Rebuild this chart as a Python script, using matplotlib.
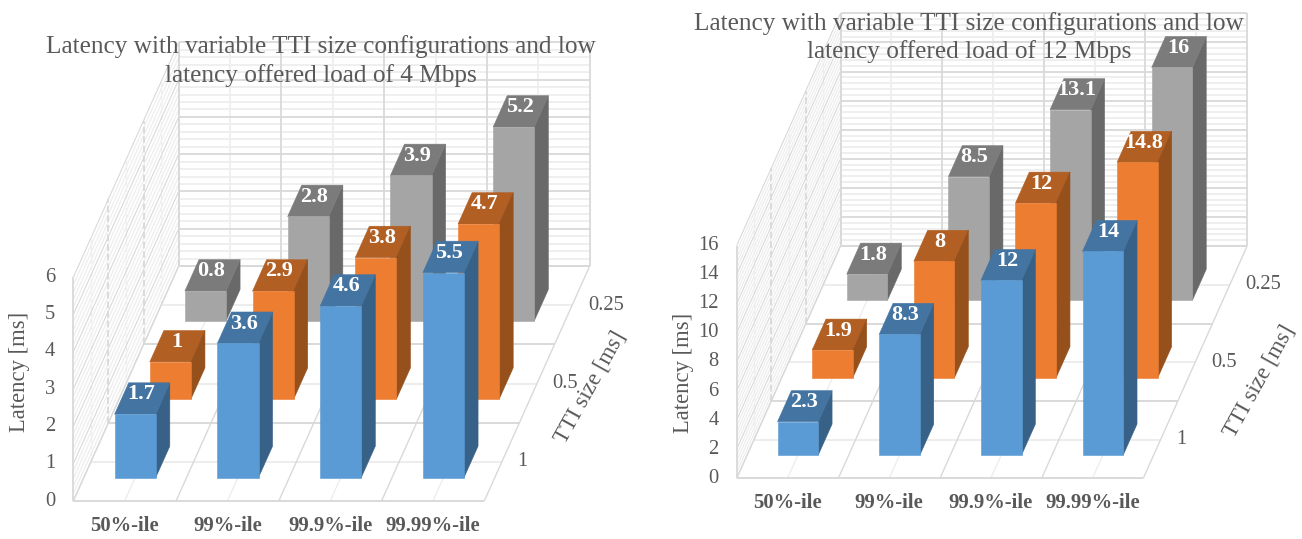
import numpy as np
import matplotlib
matplotlib.use("Agg")
import matplotlib.pyplot as plt
from mpl_toolkits.mplot3d import proj3d
from mpl_toolkits.mplot3d.art3d import Line3DCollection

plt.rcParams['font.family'] = ['Liberation Serif', 'DejaVu Serif']

categories = ['50%-ile', '99%-ile', '99.9%-ile', '99.99%-ile']
tti_labels = ['1', '0.5', '0.25']

# latency per percentile, one list for each TTI size
load4_tti1 = [1.7, 3.6, 4.6, 5.5]
load4_tti05 = [1, 2.9, 3.8, 4.7]
load4_tti025 = [0.8, 2.8, 3.9, 5.2]

load12_tti1 = [2.3, 8.3, 12, 14]
load12_tti05 = [1.9, 8, 12, 14.8]
load12_tti025 = [1.8, 8.5, 13.1, 16]

title4 = 'Latency with variable TTI size configurations and low\nlatency offered load of 4 Mbps'
title12 = 'Latency with variable TTI size configurations and low\nlatency offered load of 12 Mbps'

W, H = 1302, 539
GREY = '#595959'
MAJOR = '#d9d9d9'
MINOR = '#eeeeee'
# front, top, right face colours per TTI row
FACES = [('#5b9bd5', '#4474a1', '#376187'),
         ('#ed7d31', '#b25f24', '#95501c'),
         ('#a5a5a5', '#7b7b7b', '#696969')]


def oblique(x0, y0, cat_w, row_dx, row_dy, unit):
    # Excel style cabinet view: front faces stay rectangles, depth is a plain shear
    return np.array([[cat_w, row_dx, 0, x0],
                     [0, -row_dy, -unit, y0],
                     [0, 1, 0, 0],
                     [0, 0, 0, 1.0]])


def draw_chart(fig, rows, title, title_xy, zmax, zstep, M, ylabel_xy, xlabel_xy):
    ax = fig.add_axes([0, 0, 1, 1], projection='3d')
    ax.set_axis_off()
    ax.set_xticks([])
    ax.set_yticks([])
    ax.set_zticks([])
    ax.patch.set_alpha(0)
    ax.computed_zorder = False
    ax.get_proj = lambda: M
    ax.apply_aspect = lambda position=None: None
    ax.viewLim.intervalx = (0, W)
    ax.viewLim.intervaly = (H, 0)

    unit = -M[1, 2]
    cat_w = M[0, 0]
    n_cat = len(categories)
    n_row = len(rows)

    def line(xs, ys, zs, color, lw=1.3, ls='-', z=1):
        seg = [list(zip(xs, ys, zs))]
        ax.add_collection3d(Line3DCollection(seg, colors=color, linewidths=lw, linestyles=ls, zorder=z),
                            autolim=False)

    def label(x, y, z, s, **kw):
        px, py, _ = proj3d.proj_transform(x, y, z, M)
        ax.text2D(px, py, s, transform=ax.transData, va='center', **kw)

    # walls, minor lines first
    minor = zstep / 5
    for v in np.arange(0, zmax + minor / 2, minor):
        if abs(v / zstep - round(v / zstep)) > 1e-6:
            line([0, n_cat], [n_row, n_row], [v, v], MINOR)
            line([0, 0], [0, n_row], [v, v], MINOR, lw=0.9)
    for i in np.arange(0.5, n_cat, 1):
        line([i, i], [n_row, n_row], [0, zmax], MINOR)
        line([i, i], [0, n_row], [0, 0], '#ececec', lw=0.9)
    for r in np.arange(0.5, n_row, 1):
        line([0, 0], [r, r], [0, zmax], MINOR, lw=0.9, ls='--')
        line([0, n_cat], [r, r], [0, 0], '#ececec')
    for v in np.arange(0, zmax + zstep / 2, zstep):
        line([0, n_cat], [n_row, n_row], [v, v], MAJOR, z=2)
        line([0, 0], [0, n_row], [v, v], MAJOR, lw=0.8, z=2)
    for i in range(n_cat + 1):
        line([i, i], [n_row, n_row], [0, zmax], MAJOR, z=2)
        line([i, i], [0, n_row], [0, 0], MAJOR, lw=1.0, z=2)
    for r in range(n_row + 1):
        style = '-' if r == 0 else '--'
        line([0, 0], [r, r], [0, zmax], MAJOR, ls=style, z=2)
        line([0, n_cat], [r, r], [0, 0], MAJOR, lw=1.4, z=2)

    # bars back to front so the near rows cover the far ones
    for r in reversed(range(n_row)):
        front, top, side = FACES[r]
        colors = ['none', top, front, 'none', 'none', side]
        for i, val in enumerate(rows[r]):
            ax.bar3d(i + 0.3, r + 0.3, 0, 0.4, 0.4, val, color=colors, shade=False,
                     edgecolor=colors, linewidth=0.4, zorder=10 + 2 * (n_row - r))
            label(i + 0.49, r + 0.5, val + 4 / unit, str(val), color='white', fontsize=16,
                  fontweight='bold', ha='center', zorder=11 + 2 * (n_row - r))

    for v in np.arange(0, zmax + zstep / 2, zstep):
        label(-18 / cat_w, 0, v, f'{v:g}', color=GREY, fontsize=14.8, ha='right', zorder=30)
    for i, cat in enumerate(categories):
        label(i + 0.5, 0, -25 / unit, cat, color=GREY, fontsize=14.9, fontweight='bold',
              ha='center', zorder=30)
    for r, lab in enumerate(tti_labels):
        label(n_cat + 15.7 / cat_w, r + 0.5, 0, lab, color=GREY, fontsize=14.8, ha='left', zorder=30)

    fig.text(title_xy[0] / W, 1 - title_xy[1] / H, title, color=GREY, fontsize=18.15, ha='center',
             va='center', linespacing=1.32, zorder=40)
    fig.text(ylabel_xy[0] / W, 1 - ylabel_xy[1] / H, 'Latency [ms]', color=GREY, fontsize=16.3,
             rotation=90, ha='center', va='center', zorder=40)
    fig.text(xlabel_xy[0] / W, 1 - xlabel_xy[1] / H, 'TTI size [ms]', color=GREY, fontsize=16.5,
             rotation=61, ha='center', va='center', rotation_mode='anchor', zorder=40)


fig = plt.figure(figsize=(W / 100, H / 100), dpi=100)

draw_chart(fig, [load4_tti1, load4_tti05, load4_tti025], title4, (320.5, 61), 6, 1,
           oblique(73.3, 501, 102.75, 35.13, 78.33, 37.27), (20, 372), (590, 387))
draw_chart(fig, [load12_tti1, load12_tti05, load12_tti025], title12, (969.3, 37.5), 16, 2,
           oblique(736.7, 478.3, 101.65, 34.6, 77.4, 14.55), (684, 373), (1259, 381))

fig.savefig('out.png', dpi=100)
